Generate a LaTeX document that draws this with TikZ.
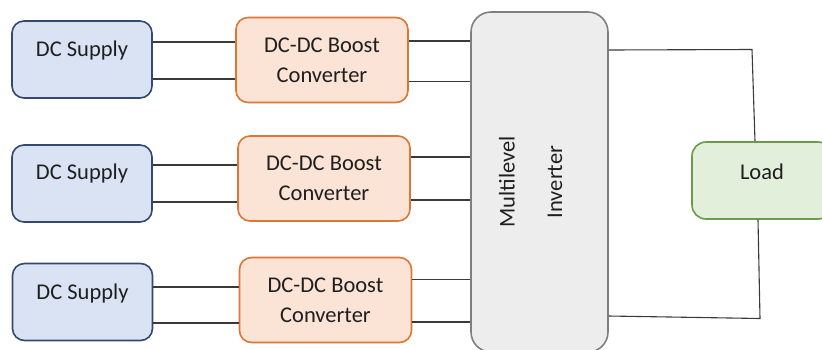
\documentclass[tikz,border=0pt]{standalone}
\usepackage{fontspec}
\setmainfont{Carlito}
\definecolor{supfill}{HTML}{DAE3F3}
\definecolor{supdraw}{HTML}{34496B}
\definecolor{bstfill}{HTML}{FBE3D5}
\definecolor{bstdraw}{HTML}{DD7636}
\definecolor{invfill}{HTML}{EDEDED}
\definecolor{invdraw}{HTML}{7F7F7F}
\definecolor{ldfill}{HTML}{E2EFDA}
\definecolor{lddraw}{HTML}{6A9A4A}
\definecolor{wire}{HTML}{3A3A3A}
\begin{document}
\begin{tikzpicture}[x=1pt,y=-1pt,
  every node/.style={font=\fontsize{22.5}{30}\selectfont, text=black!88},
  supply/.style={draw=supdraw, fill=supfill, line width=1.6pt, rounded corners=12pt,
    minimum width=140pt, minimum height=77pt, inner sep=0pt},
  boost/.style={draw=bstdraw, fill=bstfill, line width=1.6pt, rounded corners=12pt,
    minimum width=172pt, minimum height=85pt, inner sep=0pt, align=center},
  inv/.style={draw=invdraw, fill=invfill, line width=1.6pt, rounded corners=20pt,
    minimum width=137pt, minimum height=340pt, inner sep=0pt},
  loadbox/.style={draw=lddraw, fill=ldfill, line width=1.6pt, rounded corners=14pt,
    minimum width=140pt, minimum height=77pt, inner sep=0pt},
  wire/.style={draw=wire, line width=1.4pt}]
\useasboundingbox (0,0) rectangle (822,349);
% DC supplies
\node[supply, label={[yshift=9pt]center:DC Supply}] (s1) at (82,59.5) {};
\node[supply, label={[yshift=10pt]center:DC Supply}] (s2) at (82,183.5) {};
\node[supply, label={[yshift=9pt]center:DC Supply}] (s3) at (82.5,302) {};
% Boost converters
\node[boost] (b1) at (322,60) {DC-DC Boost\\Converter};
\node[boost] (b2) at (324,178.5) {DC-DC Boost\\Converter};
\node[boost] (b3) at (325.5,300) {DC-DC Boost\\Converter};
% Inverter
\node[inv] (inv) at (539.5,182) {};
\node[rotate=90] (invt1) at (507,182) {Multilevel};
\node[rotate=90] (invt2) at (555,182) {Inverter};
% Load
\node[loadbox] (ld) at (762,180.5) {};
\node (ldt) at (762,172) {Load};
% supply -> boost wires
\draw[wire] (s1.east |- 0,42) -- (b1.west |- 0,42);
\draw[wire] (s1.east |- 0,79) -- (b1.west |- 0,79);
\draw[wire] (s2.east |- 0,165) -- (b2.west |- 0,165);
\draw[wire] (s2.east |- 0,202) -- (b2.west |- 0,202);
\draw[wire] (s3.east |- 0,287) -- (b3.west |- 0,287);
\draw[wire] (s3.east |- 0,323) -- (b3.west |- 0,323);
% boost -> inverter wires
\draw[wire] (b1.east |- 0,41) -- (inv.west |- 0,41);
\draw[wire] (b1.east |- 0,81.5) -- (inv.west |- 0,81.5);
\draw[wire] (b2.east |- 0,157) -- (inv.west |- 0,157);
\draw[wire] (b2.east |- 0,200) -- (inv.west |- 0,200);
\draw[wire] (b3.east |- 0,279.5) -- (inv.west |- 0,279.5);
\draw[wire] (b3.east |- 0,322) -- (inv.west |- 0,322);
% inverter -> load
\coordinate (c1) at (752,49.5);
\coordinate (c2) at (760,318.5);
\draw[wire, line width=1.1pt] (inv.east |- 0,50) -- (c1) -- (ld.north -| 755,0);
\draw[wire, line width=1.1pt] (ld.south -| 758,0) -- (c2) -- (inv.east |- 0,316);
\end{tikzpicture}
\end{document}
